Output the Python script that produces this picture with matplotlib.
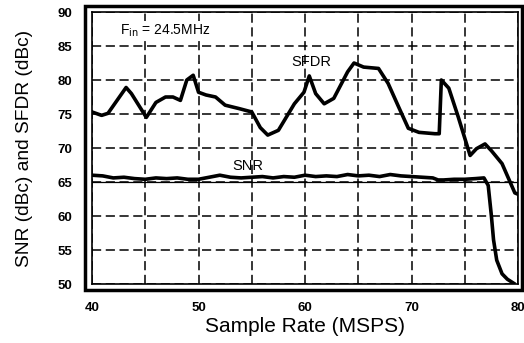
import matplotlib.pyplot as plt
from matplotlib.patches import Rectangle

plt.rcParams['font.family'] = ['Liberation Sans', 'DejaVu Sans']

# SFDR curve
sfdr_x = [40, 40.9, 41.5, 43.2, 43.7, 45.1, 46, 46.9, 47.6, 48.3, 48.9, 49.5, 50,
          50.7, 51.6, 52.5, 53.8, 55, 55.8, 56.5, 57.5, 59, 59.9, 60.4, 61, 61.8,
          62.7, 64, 64.6, 65.5, 66.9, 67.8, 68.8, 69.7, 70.7, 72.2, 72.6, 72.8,
          73.5, 74.4, 75.5, 76.1, 76.9, 77.5, 78.5, 79.7, 80]
sfdr_y = [75.3, 74.8, 75.1, 78.9, 78, 74.5, 76.7, 77.5, 77.5, 77, 80, 80.7, 78.2,
          77.8, 77.5, 76.3, 75.8, 75.3, 73, 71.9, 72.6, 76.5, 78.2, 80.6, 78, 76.5,
          77.3, 81.2, 82.5, 81.9, 81.7, 79.5, 76, 72.9, 72.3, 72.1, 72.1, 80,
          78.8, 74.5, 68.9, 69.9, 70.6, 69.6, 67.7, 63.4, 63.2]

# SNR curve
snr_x = [40, 41, 42, 43, 44, 45, 46, 47, 48, 49, 50, 51, 52, 53, 54, 55, 56, 57,
         58, 59, 60, 61, 62, 63, 64, 65, 66, 67, 68, 69, 70, 71, 72, 72.5, 73, 74,
         75, 76, 76.8, 77.2, 77.5, 77.7, 78, 78.5, 79, 79.6]
snr_y = [66, 65.9, 65.6, 65.7, 65.5, 65.4, 65.6, 65.5, 65.6, 65.4, 65.4, 65.7, 66,
         65.7, 65.6, 65.7, 65.8, 65.6, 65.8, 65.7, 66, 65.8, 65.9, 65.8, 66.1, 65.9,
         66, 65.8, 66.1, 65.9, 65.8, 65.7, 65.6, 65.3, 65.3, 65.4, 65.4, 65.5, 65.6,
         64.5, 60, 56.5, 53.5, 51.5, 50.7, 50.1]

xticks = [40, 50, 60, 70, 80]
yticks = [50, 55, 60, 65, 70, 75, 80, 85, 90]

fig = plt.figure(figsize=(5.24, 3.43), dpi=100)
ax = fig.add_axes([0.1756, 0.172, 0.813, 0.793])

ax.plot(sfdr_x, sfdr_y, color='black', linewidth=2.6, solid_joinstyle='round')
ax.plot(snr_x, snr_y, color='black', linewidth=2.6, solid_joinstyle='round')
ax.axhline(65, color='black', linewidth=0.9)

ax.set_xlim(40, 80)
ax.set_ylim(50, 90)
ax.set_xticks(xticks)
ax.set_yticks(yticks)
ax.set_xticks([45, 55, 65, 75], minor=True)
ax.grid(True, which='both', color='black', linestyle=(0, (6, 3)), linewidth=1.1)
ax.tick_params(which='both', length=0, labelsize=9.5)
ax.tick_params(axis='y', pad=14)
ax.tick_params(axis='x', pad=13)
for lbl in ax.get_xticklabels() + ax.get_yticklabels():
    lbl.set_fontweight('bold')
for sp in ax.spines.values():
    sp.set_linewidth(1.2)

# outer thick frame (double border look)
fig.add_artist(Rectangle((85 / 524, 1 - 290 / 343), 437 / 524, 284 / 343,
                         transform=fig.transFigure, fill=False,
                         edgecolor='black', linewidth=2.5))

ax.text(42.6, 87.3, 'F$_{\\mathrm{in}}$ = 24.5MHz', fontsize=10, va='center',
        bbox=dict(facecolor='white', edgecolor='none', pad=1))
ax.text(60.6, 82.6, 'SFDR', fontsize=10.5, ha='center', va='center')
ax.text(54.6, 67.3, 'SNR', fontsize=10.5, ha='center', va='center')

ax.set_xlabel('Sample Rate (MSPS)', fontsize=15, labelpad=2)
ax.set_ylabel('SNR (dBc) and SFDR (dBc)', fontsize=13.8)
ax.yaxis.set_label_coords(-0.1385, 0.5)

plt.savefig('out.png', dpi=100)
